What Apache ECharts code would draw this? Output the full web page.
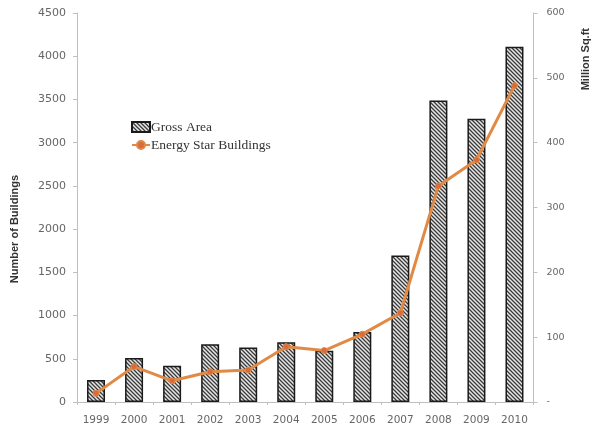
<!DOCTYPE html>
<html>
<head>
<meta charset="utf-8">
<style>
  html, body { margin: 0; padding: 0; background: #ffffff; }
  #chart { width: 602px; height: 430px; }
</style>
<script src="https://cdn.jsdelivr.net/npm/echarts@6/dist/echarts.min.js"></script>
</head>
<body>
<div id="chart"></div>
<script>
// Yearly gross floor area (million sq.ft) and Energy Star building counts
const years = ['1999', '2000', '2001', '2002', '2003', '2004', '2005', '2006', '2007', '2008', '2009', '2010'];
const grossArea = [34, 68, 56, 89, 84, 92, 79, 108, 226, 465, 437, 548];
const energyStarBuildings = [100, 410, 245, 350, 370, 640, 595, 785, 1030, 2500, 2800, 3660];
const buildingTicks = { min: 0, max: 4500, interval: 500 };
const areaTicks = { min: 0, max: 600, interval: 100 };

// Diagonal hatch fill for the bars
function hatchPattern() {
  const c = document.createElement('canvas');
  c.width = 4; c.height = 4;
  const g = c.getContext('2d');
  g.fillStyle = '#e8e8e8';
  g.fillRect(0, 0, 4, 4);
  g.strokeStyle = '#3a3a3a';
  g.lineWidth = 1.3;
  g.beginPath();
  g.moveTo(-1, -1); g.lineTo(5, 5);
  g.moveTo(-1, 3); g.lineTo(1, 5);
  g.moveTo(3, -1); g.lineTo(5, 1);
  g.stroke();
  return c;
}
const hatch = { image: hatchPattern(), repeat: 'repeat' };

const labelColor = '#666666';
const axisGray = '#bfbfbf';

const chart = echarts.init(document.getElementById('chart'), null, { renderer: 'canvas' });
chart.setOption({
  animation: false,
  backgroundColor: '#ffffff',
  grid: { left: 77, right: 68.5, top: 13, bottom: 28, containLabel: false },
  legend: {
    orient: 'vertical',
    left: 126,
    top: 115,
    itemGap: 4,
    itemWidth: 18,
    itemHeight: 10,
    textStyle: { fontFamily: 'Liberation Serif', fontSize: 13.5, color: '#333333', padding: [0, 0, 0, -4] },
    data: [
      { name: 'Gross Area', icon: 'rect' },
      { name: 'Energy Star Buildings' }
    ]
  },
  xAxis: {
    type: 'category',
    data: years,
    boundaryGap: true,
    axisLine: { lineStyle: { color: axisGray, width: 1 } },
    axisTick: { show: true, length: 3, lineStyle: { color: axisGray } },
    axisLabel: { margin: 13, color: labelColor, fontSize: 10.5, fontFamily: 'DejaVu Sans' },
    splitLine: { show: false }
  },
  yAxis: [
    {
      type: 'value',
      position: 'left',
      min: buildingTicks.min,
      max: buildingTicks.max,
      interval: buildingTicks.interval,
      axisLine: { show: true, lineStyle: { color: axisGray } },
      axisTick: { show: true, length: 4, lineStyle: { color: axisGray } },
      axisLabel: {
        margin: 11,
        color: labelColor,
        fontSize: 11,
        fontFamily: 'DejaVu Sans',
        formatter: v => String(v)
      },
      splitLine: { show: false }
    },
    {
      type: 'value',
      position: 'right',
      min: areaTicks.min,
      max: areaTicks.max,
      interval: areaTicks.interval,
      axisLine: { show: true, lineStyle: { color: axisGray } },
      axisTick: { show: true, length: 4, lineStyle: { color: axisGray } },
      axisLabel: {
        margin: 13,
        color: labelColor,
        fontSize: 9.5,
        fontFamily: 'DejaVu Sans',
        formatter: v => (v === 0 ? '-' : String(v))
      },
      splitLine: { show: false }
    }
  ],
  series: [
    {
      name: 'Gross Area',
      type: 'bar',
      yAxisIndex: 1,
      data: grossArea,
      barWidth: 18,
      itemStyle: { color: hatch, borderColor: '#1a1a1a', borderWidth: 1.5 }
    },
    {
      name: 'Energy Star Buildings',
      type: 'line',
      yAxisIndex: 0,
      data: energyStarBuildings,
      symbol: 'circle',
      symbolSize: 6,
      lineStyle: { color: '#e08a45', width: 3 },
      itemStyle: { color: '#d96b3c', borderColor: '#e08a45', borderWidth: 1 },
      z: 5
    }
  ],
  graphic: [
    {
      type: 'text',
      left: 9,
      top: 175,
      rotation: Math.PI / 2,
      style: {
        text: 'Number of Buildings',
        fontFamily: 'Liberation Sans',
        fontWeight: 'bold',
        fontSize: 11,
        fill: '#333333'
      }
    },
    {
      type: 'text',
      left: 580,
      top: 28,
      rotation: Math.PI / 2,
      style: {
        text: 'Million Sq.ft',
        fontFamily: 'Liberation Sans',
        fontWeight: 'bold',
        fontSize: 11,
        fill: '#333333'
      }
    }
  ]
});
</script>
</body>
</html>
